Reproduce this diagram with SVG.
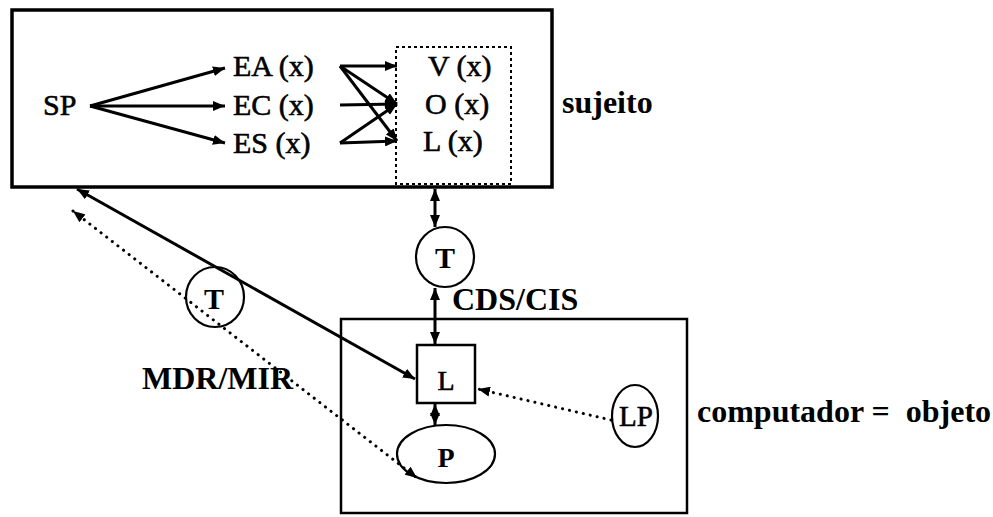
<svg xmlns="http://www.w3.org/2000/svg" width="993" height="517" viewBox="0 0 993 517">
<defs>
<marker id="ah" viewBox="0 0 12 10" refX="12" refY="5" markerWidth="12" markerHeight="10" markerUnits="userSpaceOnUse" orient="auto-start-reverse"><path d="M0,0 L12,5 L0,10 z" fill="#000"/></marker>
</defs>
<style>
text{font-family:'Liberation Serif','Times New Roman',serif;fill:#000}
.r{font-size:30px;stroke:#000;stroke-width:0.6}
.b{font-size:32px;font-weight:bold}
.box{fill:none;stroke:#000}
.c{fill:none;stroke:#000;stroke-width:2.2}
.s{stroke:#000;stroke-width:3;fill:none}
.d{stroke:#000;stroke-width:3;fill:none;stroke-dasharray:0.1 7;stroke-linecap:round}
</style>
<g font-family="Liberation Serif, serif">
<g id="sujeito-box">
<rect class="box" x="12" y="10" width="540" height="177" stroke-width="3.5"/>
<rect class="box" x="396" y="47" width="115" height="137" stroke-width="2" stroke-dasharray="3 3"/>
<text class="b" x="562" y="113" font-family="Liberation Serif, serif">sujeito</text>
</g>
<g id="objeto-box">
<rect class="box" x="341" y="319" width="346" height="194" stroke-width="2.5"/>
<text class="b" x="697" y="422" font-family="Liberation Serif, serif" xml:space="preserve">computador =  objeto</text>
</g>
<g id="SP"><text class="r" x="43" y="115" font-family="Liberation Serif, serif">SP</text></g>
<g id="EA"><text class="r" x="233" y="76" font-family="Liberation Serif, serif">EA (x)</text></g>
<g id="EC"><text class="r" x="233" y="115" font-family="Liberation Serif, serif">EC (x)</text></g>
<g id="ES"><text class="r" x="233" y="153" font-family="Liberation Serif, serif">ES (x)</text></g>
<g id="V"><text class="r" x="428" y="76" font-family="Liberation Serif, serif">V (x)</text></g>
<g id="O"><text class="r" x="425" y="114" font-family="Liberation Serif, serif">O (x)</text></g>
<g id="Lx"><text class="r" x="423" y="151" font-family="Liberation Serif, serif">L (x)</text></g>
<g id="T1">
<ellipse class="c" cx="445" cy="257" rx="29" ry="30"/>
<text class="b" x="445" y="268" text-anchor="middle" font-family="Liberation Serif, serif" style="font-size:30px">T</text>
</g>
<g id="T2">
<ellipse class="c" cx="215" cy="297" rx="29" ry="30"/>
<text class="b" x="214" y="309" text-anchor="middle" font-family="Liberation Serif, serif" style="font-size:30px">T</text>
</g>
<g id="L">
<rect x="417" y="345" width="58" height="58" fill="none" stroke="#000" stroke-width="2.5"/>
<text class="r" x="446" y="390" text-anchor="middle" font-family="Liberation Serif, serif" style="font-size:28px">L</text>
</g>
<g id="P">
<ellipse class="c" cx="446" cy="454" rx="49" ry="29"/>
<text class="b" x="446" y="467" text-anchor="middle" font-family="Liberation Serif, serif" style="font-size:28px">P</text>
</g>
<g id="LP">
<ellipse class="c" cx="635" cy="416" rx="23" ry="31"/>
<text class="r" x="636" y="426" text-anchor="middle" font-family="Liberation Serif, serif" style="font-size:29px">LP</text>
</g>
<g id="labels">
<text class="b" x="452" y="310" font-family="Liberation Serif, serif">CDS/CIS</text>
<text class="b" x="142" y="389" font-family="Liberation Serif, serif">MDR/MIR</text>
</g>
</g>
<g id="connectors">
<line class="s" x1="90" y1="106" x2="225" y2="68" marker-end="url(#ah)"/>
<line class="s" x1="90" y1="106" x2="225" y2="106" marker-end="url(#ah)"/>
<line class="s" x1="90" y1="106" x2="225" y2="143" marker-end="url(#ah)"/>
<line class="s" x1="340" y1="66" x2="397" y2="66" marker-end="url(#ah)"/>
<line class="s" x1="340" y1="66" x2="397" y2="104" marker-end="url(#ah)"/>
<line class="s" x1="340" y1="66" x2="397" y2="141" marker-end="url(#ah)"/>
<line class="s" x1="340" y1="105" x2="397" y2="104" marker-end="url(#ah)"/>
<line class="s" x1="340" y1="143" x2="397" y2="104" marker-end="url(#ah)"/>
<line class="s" x1="340" y1="143" x2="397" y2="141" marker-end="url(#ah)"/>
<line class="s" x1="435" y1="189" x2="435" y2="227" marker-start="url(#ah)" marker-end="url(#ah)"/>
<line class="s" x1="435" y1="288" x2="435" y2="344" marker-start="url(#ah)" marker-end="url(#ah)"/>
<line class="s" x1="435" y1="404" x2="435" y2="425" marker-start="url(#ah)" marker-end="url(#ah)"/>
<line class="s" x1="77" y1="189" x2="415" y2="379" marker-start="url(#ah)" marker-end="url(#ah)"/>
<line class="d" x1="73" y1="211" x2="417" y2="478" marker-start="url(#ah)" marker-end="url(#ah)"/>
<line class="d" x1="611" y1="420" x2="478" y2="389" marker-end="url(#ah)"/>
</g>
</svg>
